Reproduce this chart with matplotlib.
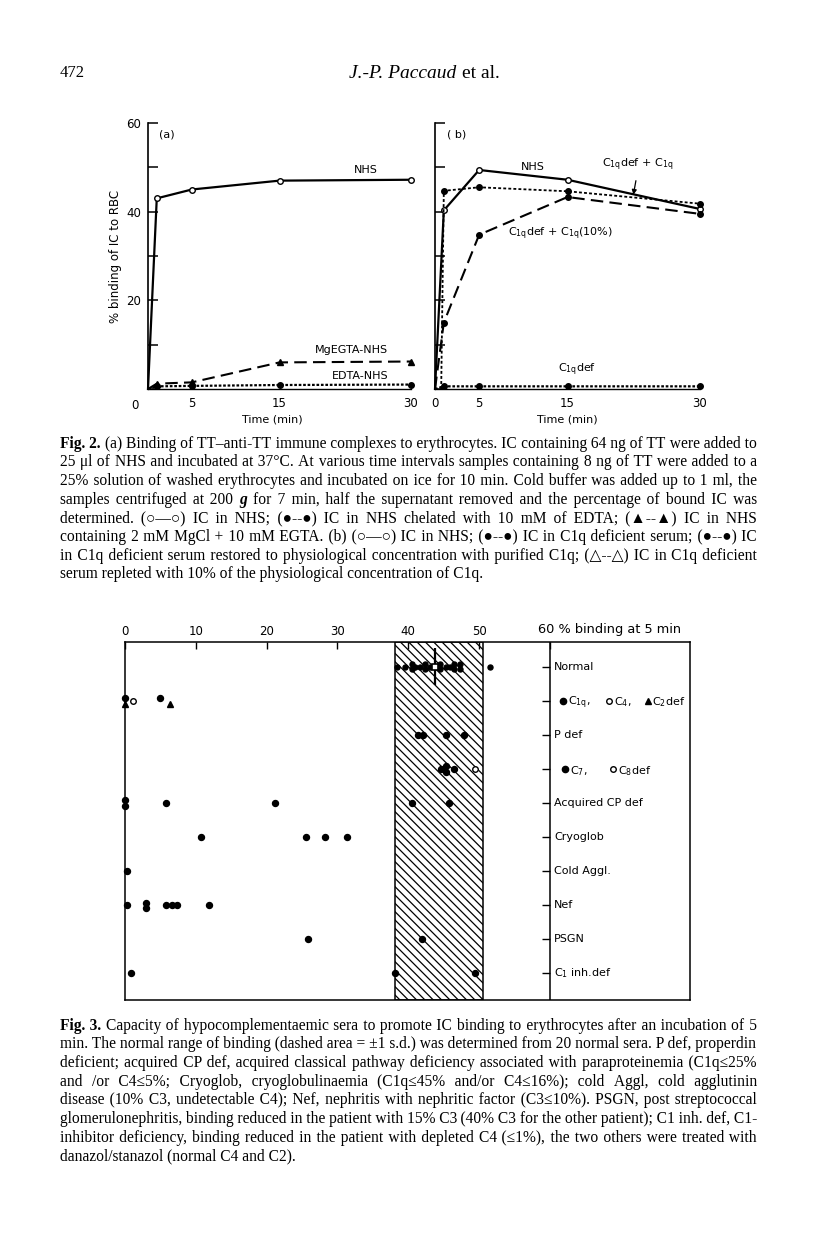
import matplotlib
matplotlib.use('Agg')
import matplotlib.pyplot as plt
import numpy as np

plt.rcParams['mathtext.default'] = 'regular'
plt.rcParams['hatch.linewidth'] = 0.9

W, H = 816, 1238
SERIF = ['Liberation Serif', 'DejaVu Sans']

# ---- Fig. 2 data (time in min, % binding) ----
time_a = [0, 1, 5, 15, 30]
nhs_a = [0, 43, 45, 47, 47.2]
mgegta_a = [0, 1.2, 1.5, 6.0, 6.2]
edta_a = [0, 0.6, 0.7, 0.9, 1.0]

time_b = [0, 1, 5, 15, 30]
nhs_b = [0, 40.3, 49.4, 47.2, 40.6]
time_b_restored = [0.7, 1, 5, 15, 30]
c1q_restored_b = [0, 44.7, 45.5, 44.6, 41.8]
c1q_10pct_b = [0, 15, 34.8, 43.3, 39.5]
c1qdef_b = [0, 0.6, 0.6, 0.6, 0.6]

# ---- Fig. 3 data (% binding at 5 min) ----
normal_vals = [38.4, 39.5, 40.5, 40.5, 41.0, 41.7, 42.4, 42.4, 43.1, 44.5,
               44.5, 45.4, 45.9, 46.4, 46.4, 47.3, 47.3, 51.5]
normal_mean = 43.8
normal_low, normal_high = 38.2, 50.5
c1q_def = [0, 4.9]
c4_def = [1.2]
c2_def = [0, 6.4]
p_def = [41.4, 42.1, 45.4, 47.9]
c7_def = [44.7, 45.4, 45.4, 46.4]
c8_def = [49.5]
acq_cp_def = [0, 0, 5.8, 21.2, 40.6, 45.8]
cryoglob = [10.7, 25.5, 28.2, 31.4]
cold_aggl = [0.3]
nef = [0.3, 3.0, 3.0, 5.8, 6.6, 7.4, 11.8]
psgn = [25.8, 42.0]
c1_inh_def = [0.8, 38.2, 49.5]
row_labels = ['Normal', '', 'P def', '', 'Acquired CP def', 'Cryoglob',
              'Cold Aggl.', 'Nef', 'PSGN', r'C$_{1}$ inh.def']

fig = plt.figure(figsize=(W / 100, H / 100), dpi=100)


def box(x0, y0, x1, y1):
    return [x0 / W, 1 - y1 / H, (x1 - x0) / W, (y1 - y0) / H]


def fx(x):
    return x / W


def fy(y):
    return 1 - y / H


# page header
fig.text(fx(60), fy(77), '472', family=SERIF, fontsize=12, va='baseline')
fig.text(fx(456), fy(78), 'J.-P. Paccaud', family=SERIF, fontsize=14,
         style='italic', ha='right', va='baseline')
fig.text(fx(462), fy(78), 'et al.', family=SERIF, fontsize=14, va='baseline')

# ---- Fig. 2 panels ----
ax_a = fig.add_axes(box(148, 123, 411, 389))
ax_b = fig.add_axes(box(435, 123, 700, 389))
for ax in (ax_a, ax_b):
    ax.set_xlim(0, 30)
    ax.set_ylim(0, 60)
    ax.spines['top'].set_visible(False)
    ax.spines['right'].set_visible(False)
    ax.spines['left'].set_linewidth(1.2)
    ax.spines['bottom'].set_linewidth(1.0)
    ax.set_yticks(range(0, 61, 10))
    ax.tick_params(axis='y', direction='in', length=7, width=1.1, pad=5,
                   labelsize=8.5)
    ax.tick_params(axis='x', length=0, pad=6, labelsize=8.5)
    ax.patch.set_alpha(0)

ax_a.set_yticklabels(['', '', '20', '', '40', '', '60'])
ax_b.set_yticklabels([])
ax_a.set_xticks([5, 15, 30])
ax_a.text(-1.5, -2.3, '0', fontsize=8.5, ha='center', va='top')
ax_b.set_xticks([0, 5, 15, 30])
ax_a.set_ylabel('% binding of IC to RBC', fontsize=8.5, labelpad=3)

mk = dict(clip_on=False, markevery=slice(1, None))
ax_a.plot(time_a, nhs_a, color='black', lw=1.6, marker='o', ms=4,
          mfc='white', mec='black', mew=1, **mk)
ax_a.plot(time_a, mgegta_a, color='black', lw=1.5, dashes=(6, 3),
          marker='^', ms=4.5, mfc='black', **mk)
ax_a.plot(time_a, edta_a, color='black', lw=1.6, dashes=(1.2, 0.8),
          marker='o', ms=4, mfc='black', **mk)

ax_b.plot(time_b, nhs_b, color='black', lw=1.6, marker='o', ms=4,
          mfc='white', mec='black', mew=1, **mk)
ax_b.plot(time_b_restored, c1q_restored_b, color='black', lw=1.3,
          dashes=(1.6, 1.2), marker='o', ms=4, mfc='black', **mk)
ax_b.plot(time_b, c1q_10pct_b, color='black', lw=1.5, dashes=(6, 3),
          marker='o', ms=4, mfc='black', **mk)
ax_b.plot(time_b, c1qdef_b, color='black', lw=1.6, dashes=(1.2, 0.8),
          marker='o', ms=4, mfc='black', **mk)

lab = dict(fontsize=8, ha='center', va='center')
ax_a.text(2.2, 57.5, '(a)', **lab)
ax_a.text(24.9, 49.3, 'NHS', **lab)
ax_a.text(23.2, 8.8, 'MgEGTA-NHS', **lab)
ax_a.text(24.2, 3.0, 'EDTA-NHS', **lab)
ax_b.text(2.5, 57.5, '( b)', **lab)
ax_b.text(11.1, 50.1, 'NHS', **lab)
ax_b.text(23.0, 50.6, r'C$_{1q}$def + C$_{1q}$', **lab)
ax_b.text(14.2, 35.1, r'C$_{1q}$def + C$_{1q}$(10%)', **lab)
ax_b.text(16.1, 4.3, r'C$_{1q}$def', **lab)
ax_b.annotate('', xy=(22.4, 43.2), xytext=(22.8, 47.6),
              arrowprops=dict(arrowstyle='-|>', color='black', lw=0.9,
                              mutation_scale=7))

fig.text(fx(272), fy(420), 'Time (min)', fontsize=8, ha='center', va='center')
fig.text(fx(567), fy(420), 'Time (min)', fontsize=8, ha='center', va='center')

# ---- Fig. 3 ----
ax3 = fig.add_axes(box(125, 641.7, 690, 1000))
ax3.set_xlim(0, 79.8)
ax3.set_ylim(9.78, -0.734)
for s in ax3.spines.values():
    s.set_linewidth(1.1)
ax3.xaxis.tick_top()
ax3.set_xticks([0, 10, 20, 30, 40, 50, 60])
ax3.set_xticklabels(['0', '10', '20', '30', '40', '50', ''])
ax3.tick_params(axis='x', direction='in', length=5, width=1, pad=3,
                labelsize=8.5)
ax3.set_yticks([])
ax3.axvline(60, color='black', lw=1.1)
ax3.axvspan(normal_low, normal_high, facecolor='none', edgecolor='black',
            hatch='\\\\\\\\', lw=1.1)
fig.text(fx(538), fy(630), '60 % binding at 5 min', fontsize=9.3,
         va='center')

rows = np.arange(len(row_labels))
ax3.hlines(rows, 58.85, 60, color='black', lw=1)
for r, name in zip(rows, row_labels):
    if name:
        ax3.text(60.6, r, name, fontsize=8, va='center')


def dots(vals, row, marker='o', filled=True, ms=4.3, shift=0.0):
    vals = np.asarray(vals, dtype=float)
    offs = []
    for i, v in enumerate(vals):
        same = list(np.where(np.isclose(vals, v))[0])
        offs.append((same.index(i) - (len(same) - 1) / 2) * 0.15)
    ax3.plot(vals, row + shift + np.array(offs), ls='none', marker=marker,
             mfc='black' if filled else 'white', mec='black', mew=1, ms=ms,
             clip_on=False)


dots(normal_vals, 0, ms=3.6)
ax3.vlines(normal_mean, -0.55, 0.54, color='black', lw=1.6)
ax3.plot(normal_mean, 0, marker='s', ms=5, mfc='white', mec='black', mew=1.2)
dots(c1q_def, 1, shift=-0.08)
dots(c4_def, 1, filled=False, ms=4)
dots(c2_def, 1, marker='^', shift=0.1)
dots(p_def, 2)
dots(c7_def, 3)
dots(c8_def, 3, filled=False, ms=4)
dots(acq_cp_def, 4)
dots(cryoglob, 5)
dots(cold_aggl, 6)
dots(nef, 7)
dots(psgn, 8)
dots(c1_inh_def, 9)

# inline legends for rows 1 and 3
leg = dict(ls='none', mec='black', clip_on=False)
ax3.plot(61.8, 1, marker='o', ms=4.5, mfc='black', **leg)
ax3.text(62.5, 1.05, r'C$_{1q}$,', fontsize=8, va='center')
ax3.plot(68.3, 1, marker='o', ms=4, mfc='white', **leg)
ax3.text(69.0, 1.05, r'C$_{4}$,', fontsize=8, va='center')
ax3.plot(73.8, 1, marker='^', ms=4.5, mfc='black', **leg)
ax3.text(74.4, 1.05, r'C$_{2}$def', fontsize=8, va='center')
ax3.plot(62.1, 3, marker='o', ms=4.5, mfc='black', **leg)
ax3.text(62.8, 3.05, r'C$_{7}$,', fontsize=8, va='center')
ax3.plot(68.9, 3, marker='o', ms=4, mfc='white', **leg)
ax3.text(69.6, 3.05, r'C$_{8}$def', fontsize=8, va='center')

# ---- captions (justified, one text per segment so baselines agree) ----
renderer = fig.canvas.get_renderer()
CAP_SIZE = 11.2
THIN, HAIR = '\u2009', '\u200a'


def text_w(s, size, weight='normal', style='normal'):
    t = fig.text(0, 0, s, family=SERIF, fontsize=size, fontweight=weight,
                 style=style)
    w = t.get_window_extent(renderer).width
    t.remove()
    return w


def spacer_table(size):
    base = text_w('xx', size)
    ws = text_w('x x', size) - base
    wt = text_w('x' + THIN + 'x', size) - base
    wh = text_w('x' + HAIR + 'x', size) - base
    table = []
    for a in range(0, 4):
        for b in range(0, 3):
            for c in range(0, 4):
                if a + b + c:
                    table.append((a * ws + b * wt + c * wh,
                                  ' ' * a + THIN * b + HAIR * c))
    return table


def put_line(segments, y, justify=True, x0=60, x1=757):
    # segments: list of (text, weight, style)
    words = []
    for k, (s, wt, st) in enumerate(segments):
        for w in s.split(' '):
            words.append((w, k, wt, st))
    size = CAP_SIZE
    while True:
        widths = [text_w(w, size, wt, st) for w, k, wt, st in words]
        if justify and len(words) > 1:
            gap = (x1 - x0 - sum(widths)) / (len(words) - 1)
        else:
            gap = text_w('x x', size) - text_w('xx', size)
        if gap >= 2.6 or size < 9:
            break
        size -= 0.1
    table = spacer_table(size)
    seg_start = {}
    seg_str = {}
    target = x0
    actual = x0
    for i, (w, k, wt, st) in enumerate(words):
        if k not in seg_str:
            seg_start[k] = target
            seg_str[k] = w
            actual = target + widths[i]
        else:
            need = target - actual
            sw, sp = min(table, key=lambda e: abs(e[0] - need))
            seg_str[k] += sp + w
            actual += sw + widths[i]
        target += widths[i] + gap
    for k, (s, wt, st) in enumerate(segments):
        fig.text(fx(seg_start[k]), fy(y + 4.5), seg_str[k], family=SERIF,
                 fontsize=size, fontweight=wt, style=st, va='baseline')


R = ('normal', 'normal')
B = ('bold', 'normal')
fig2_caption = [
    [('Fig. 2.',) + B, ('(a) Binding of TT–anti-TT immune complexes to erythrocytes. IC containing 64 ng of TT were added to',) + R],
    [('25 μl of NHS and incubated at 37°C. At various time intervals samples containing 8 ng of TT were added to a',) + R],
    [('25% solution of washed erythrocytes and incubated on ice for 10 min. Cold buffer was added up to 1 ml, the',) + R],
    [('samples centrifuged at 200',) + R, ('g', 'bold', 'italic'), ('for 7 min, half the supernatant removed and the percentage of bound IC was',) + R],
    [('determined. (○—○) IC in NHS; (●--●) IC in NHS chelated with 10 mM of EDTA; (▲--▲) IC in NHS',) + R],
    [('containing 2 mM MgCl + 10 mM EGTA. (b) (○—○) IC in NHS; (●--●) IC in C1q deficient serum; (●--●) IC',) + R],
    [('in C1q deficient serum restored to physiological concentration with purified C1q; (△--△) IC in C1q deficient',) + R],
    [('serum repleted with 10% of the physiological concentration of C1q.',) + R],
]
fig3_caption = [
    [('Fig. 3.',) + B, ('Capacity of hypocomplementaemic sera to promote IC binding to erythrocytes after an incubation of 5',) + R],
    [('min. The normal range of binding (dashed area = ±1 s.d.) was determined from 20 normal sera. P def, properdin',) + R],
    [('deficient; acquired CP def, acquired classical pathway deficiency associated with paraproteinemia (C1q≤25%',) + R],
    [('and /or C4≤5%; Cryoglob, cryoglobulinaemia (C1q≤45% and/or C4≤16%); cold Aggl, cold agglutinin',) + R],
    [('disease (10% C3, undetectable C4); Nef, nephritis with nephritic factor (C3≤10%). PSGN, post streptococcal',) + R],
    [('glomerulonephritis, binding reduced in the patient with 15% C3 (40% C3 for the other patient); C1 inh. def, C1-',) + R],
    [('inhibitor deficiency, binding reduced in the patient with depleted C4 (≤1%), the two others were treated with',) + R],
    [('danazol/stanazol (normal C4 and C2).',) + R],
]

for i, segs in enumerate(fig2_caption):
    put_line(segs, 443 + i * 18.7, justify=i < len(fig2_caption) - 1)
for i, segs in enumerate(fig3_caption):
    put_line(segs, 1025 + i * 18.7, justify=i < len(fig3_caption) - 1)

fig.savefig('out.png', dpi=100)
